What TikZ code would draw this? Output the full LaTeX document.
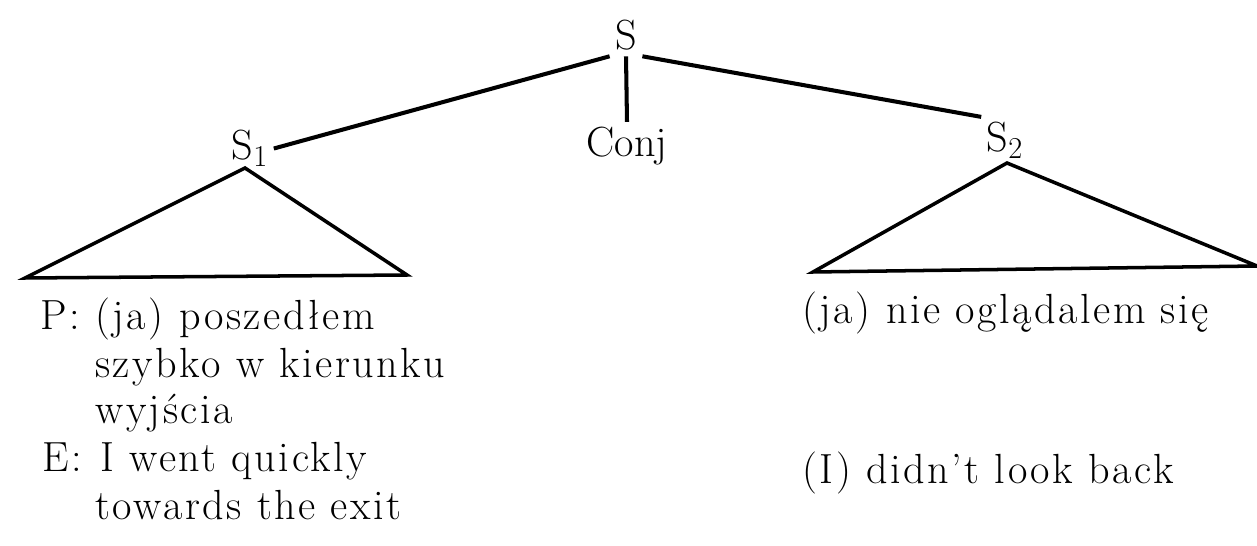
\documentclass[tikz,border=0pt]{standalone}
\usepackage{fontspec}
\newfontfamily\spacedrm{Latin Modern Roman}[LetterSpace=6]
\begin{document}
\begin{tikzpicture}[
  x=0.02cm, y=-0.02cm,
  every node/.style={inner sep=3pt, font=\fontsize{24}{27}\selectfont},
  lab/.style={anchor=base},
  txt/.style={anchor=base west, inner sep=0pt, font=\fontsize{24}{27}\spacedrm},
  branch/.style={line width=2.3pt},
  roof/.style={line width=2pt, line join=miter}
]
\useasboundingbox (0,0) rectangle (1257,546);

% =======================
% Top of the tree
% =======================
\node[lab] (S) at (626,50) {S};
\node[lab] (Conj) at (627,157) {Conj};
\node[lab] (S1) at (250,160) {S$_1$};
\node[lab] (S2) at (1005,152) {S$_2$};

\draw[branch] (S.south west) -- (S1.east);
\draw[branch] (S.south) -- (Conj.north);
\draw[branch] (S.south east) -- (S2.north west);

% =======================
% Triangles (roofs)
% =======================
\coordinate (L0) at (245,168);
\coordinate (L1) at (25,278);
\coordinate (L2) at (407,275);
\draw[roof] (L0) -- (L1) -- (L2) -- cycle;

\coordinate (R0) at (1007,163);
\coordinate (R1) at (813,272);
\coordinate (R2) at (1257,266);
\draw[roof] (R0) -- (R1) -- (R2) -- cycle;

% =======================
% Left clause
% =======================
\node[txt] (Ptag) at (40,330) {P:};
\node[txt] (P1) at (95,330) {(ja) poszedłem};
\node[txt] (P2) at (95,378) {szybko w kierunku};
\node[txt] (P3) at (95,424) {wyjścia};
\node[txt] (Etag) at (42,472) {E:};
\node[txt] (E1) at (100,472) {I went quickly};
\node[txt] (E2) at (95,520) {towards the exit};

% =======================
% Right clause
% =======================
\node[txt] (Q1) at (802,324) {(ja) nie oglądalem się};
\node[txt] (F1) at (802,484) {(I) didn’t look back};
\end{tikzpicture}
\end{document}
